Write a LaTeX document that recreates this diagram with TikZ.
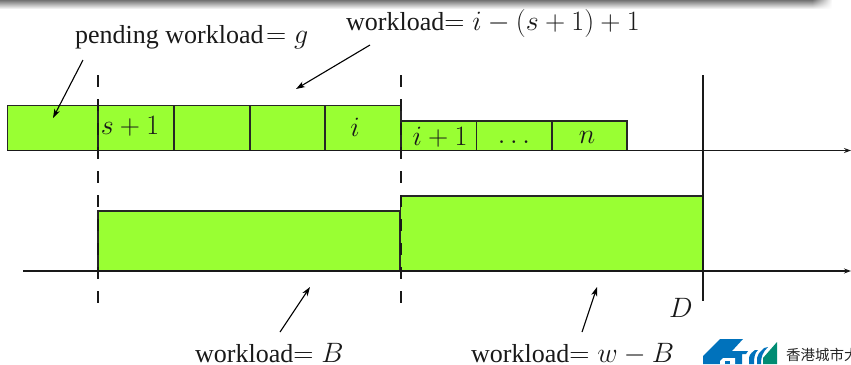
\RequirePackage{fix-cm}
\documentclass[tikz,border=0pt]{standalone}
\usepackage{graphicx}
\usepackage[no-math]{fontspec}
\setmainfont{Liberation Serif}
\newfontfamily\cjkfont{Noto Sans CJK TC}
\usetikzlibrary{arrows.meta,fadings}
\definecolor{barg}{RGB}{153,255,51}
\definecolor{logob}{RGB}{0,114,188}
\definecolor{logot}{RGB}{0,140,115}
\newcommand\mth[1]{\scalebox{1.078}{$#1$}}
\tikzset{
  bigtext/.style={font=\fontsize{26}{30}\selectfont,inner sep=0pt,anchor=base west,text=black!90},
  celltext/.style={font=\fontsize{26}{30}\selectfont,inner sep=0pt,anchor=base,text=black!90},
  cell/.style={draw=black!85,fill=barg,line width=1.4pt,inner sep=0pt,outer sep=0pt,anchor=south west},
  axisline/.style={draw=black!90,line width=1.2pt,-{Stealth[length=7pt,width=5pt]}},
  guide/.style={draw=black!90,line width=1.1pt,dash pattern=on 12pt off 12pt},
  pointer/.style={draw=black,line width=1.1pt,-{Stealth[length=9pt,width=6pt,inset=2.5pt]}}
}
\begin{document}
\begin{tikzpicture}[x=1pt,y=-1pt]
\useasboundingbox (0,0) rectangle (851,364);
\clip (0,0) rectangle (851,364);
% window shadow at the top edge
\shade[top color=black!55,bottom color=white] (0,0) rectangle (835,9);
\fill[white,path fading=west] (812,0) rectangle (832,10);
\fill[white] (832,0) rectangle (851,10);
% top row
\node[cell,minimum width=90.5pt,minimum height=45pt] (pend) at (7.5,150.5) {};
\node[cell,minimum width=76pt,minimum height=45pt] (c1) at (98,150.5) {};
\node[cell,minimum width=76pt,minimum height=45pt] (c2) at (174,150.5) {};
\node[cell,minimum width=75pt,minimum height=45pt] (c3) at (250,150.5) {};
\node[cell,minimum width=76pt,minimum height=45pt] (c4) at (325,150.5) {};
\node[cell,minimum width=76pt,minimum height=29.5pt] (d1) at (401,150.5) {};
\node[cell,minimum width=75pt,minimum height=29.5pt] (d2) at (476.5,150.5) {};
\node[cell,minimum width=75pt,minimum height=29.5pt] (d3) at (552,150.5) {};
\node[celltext] (t1) at (130,134) {\mth{s+1}};
\node[celltext] (t2) at (355,136) {\mth{i}};
\node[celltext] (t3) at (440,145.5) {\mth{i+1}};
\node[celltext] (t4) at (514,143.5) {\mth{\ldots}};
\node[celltext] (t5) at (587,143.5) {\mth{n}};
% bottom row
\node[cell,minimum width=302pt,minimum height=60pt] (blockB) at (98,271) {};
\node[cell,minimum width=302.5pt,minimum height=75pt] (blockW) at (400.5,271) {};
% axes
\coordinate (ax1s) at (7,150.5); \coordinate (ax1e) at (851,150.5);
\coordinate (ax2s) at (23,271); \coordinate (ax2e) at (851,271);
\draw[axisline] (ax1s) -- (ax1e);
\draw[axisline] (ax2s) -- (ax2e);
% guides
\coordinate (g1t) at (98,75); \coordinate (g1b) at (98,303);
\coordinate (g2t) at (401,75); \coordinate (g2b) at (401,303);
\coordinate (dt) at (703,75); \coordinate (db) at (703,301);
\draw[guide] (g1t) -- (g1b);
\draw[guide] (g2t) -- (g2b);
\draw[draw=black!90,line width=1.1pt] (dt) -- (db);
% labels
\node[bigtext] (lpend) at (75,43) {pending workload\kern2.5pt\mth{=g}};
\node[bigtext] (lwork) at (346,30) {workload\mth{=i-(s+1)+1}};
\node[bigtext] (lB) at (195,362) {workload\mth{=B}};
\node[bigtext] (lW) at (471,362) {workload\mth{=w-B}};
\node[bigtext] (lD) at (669,317) {\mth{D}};
% pointers
\coordinate (p1a) at (83,60); \coordinate (p1b) at (53,118);
\coordinate (p2a) at (370,45); \coordinate (p2b) at (296,89);
\coordinate (p3a) at (280,332); \coordinate (p3b) at (310,287);
\coordinate (p4a) at (582,332); \coordinate (p4b) at (597,287);
\draw[pointer] (p1a) -- (p1b);
\draw[pointer] (p2a) -- (p2b);
\draw[pointer] (p3a) -- (p3b);
\draw[pointer] (p4a) -- (p4b);
% logo
\fill[logob] (703,364) -- (703,356) -- (720,339) -- (743,339) -- (732,351) -- (748,351) -- (746,354) -- (742,354) -- (742,364) -- cycle;
\fill[white] (720,364) -- (720,361) -- (723,358) -- (735,358) -- (735,364) -- cycle;
\fill[logob] (725,364) -- (725,361) -- (730,361) -- (730,364) -- cycle;
\fill[logob] (749,364) -- (749,358) .. controls (750,354) .. (755,350) -- (758,350) .. controls (755,353) and (754,356) .. (754,364) -- cycle;
\fill[logob] (757,364) -- (757,358) .. controls (758,354) .. (764,348) -- (768,347) .. controls (763,352) and (761,356) .. (761,364) -- cycle;
\fill[logot] (763,364) -- (763,358) -- (777,342) -- (777,364) -- cycle;
\node[font=\cjkfont\fontsize{14.5}{16}\selectfont,inner sep=0pt,anchor=base west,text=black!85] (logotext) at (786,360) {香港城市大};
\end{tikzpicture}
\end{document}
